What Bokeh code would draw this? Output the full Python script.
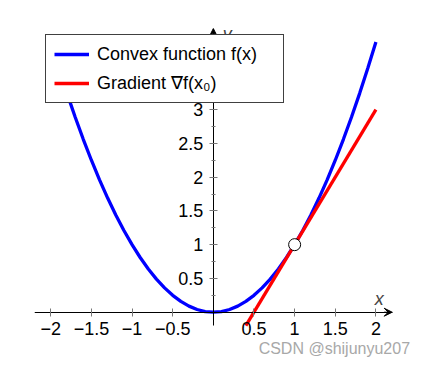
from bokeh.plotting import figure
from bokeh.models import (Range1d, LinearAxis, FixedTicker, CustomJSTickFormatter,
                          Legend, LegendItem, Label, Arrow, VeeHead)
from bokeh.embed import file_html
from bokeh.resources import INLINE

# convex function f(x)
curve_x = [-2.0, -1.9, -1.8, -1.7, -1.6, -1.5, -1.4, -1.3, -1.2, -1.1, -1.0,
           -0.9, -0.8, -0.7, -0.6, -0.5, -0.4, -0.3, -0.2, -0.1, 0.0,
           0.1, 0.2, 0.3, 0.4, 0.5, 0.6, 0.7, 0.8, 0.9, 1.0,
           1.1, 1.2, 1.3, 1.4, 1.5, 1.6, 1.7, 1.8, 1.9, 2.0]
curve_y = [4.0, 3.61, 3.24, 2.89, 2.56, 2.25, 1.96, 1.69, 1.44, 1.21, 1.0,
           0.81, 0.64, 0.49, 0.36, 0.25, 0.16, 0.09, 0.04, 0.01, 0.0,
           0.01, 0.04, 0.09, 0.16, 0.25, 0.36, 0.49, 0.64, 0.81, 1.0,
           1.21, 1.44, 1.69, 1.96, 2.25, 2.56, 2.89, 3.24, 3.61, 4.0]
# tangent (gradient) line
tangent_x = [0.4, 2.0]
tangent_y = [-0.2, 3.0]
# point x0
point_x = [1.0]
point_y = [1.0]

x_ticks = [-2, -1.5, -1, -0.5, 0.5, 1, 1.5, 2]
y_ticks = [0.5, 1, 1.5, 2, 2.5, 3, 3.5, 4]
y_minor = [0.25, 0.75, 1.25, 1.75, 2.25, 2.75, 3.25, 3.75]

legend_labels = ["Convex function f(x)", "Gradient \u2207f(x\u2080)"]

FONT = "Liberation Sans"

p = figure(width=417, height=359, output_backend="svg", toolbar_location=None,
           x_range=Range1d(-2.2, 2.45), y_range=Range1d(-0.7, 4.2),
           x_axis_location=None, y_axis_location=None,
           min_border_left=34, min_border_right=5, min_border_top=28,
           min_border_bottom=0)
p.outline_line_color = None
p.xgrid.visible = False
p.ygrid.visible = False

fmt = CustomJSTickFormatter(code="return tick.toString().replace('-', '\\u2212');")

xaxis = LinearAxis(fixed_location=0, ticker=FixedTicker(ticks=x_ticks), formatter=fmt,
                   bounds=(-2.2, 2.2))
xaxis.axis_line_color = "black"
xaxis.major_tick_line_color = "#777777"
xaxis.major_tick_in = 4
xaxis.major_tick_out = 4
xaxis.minor_tick_line_color = None
xaxis.major_label_text_font = FONT
xaxis.major_label_text_font_size = "18px"
xaxis.major_label_text_color = "black"
xaxis.major_label_standoff = 6
p.add_layout(xaxis, "below")

yaxis = LinearAxis(fixed_location=0, ticker=FixedTicker(ticks=y_ticks, minor_ticks=y_minor),
                   formatter=fmt, bounds=(-0.2, 4.2))
yaxis.axis_line_color = "black"
yaxis.major_tick_line_color = "#777777"
yaxis.major_tick_in = 4
yaxis.major_tick_out = 4
yaxis.minor_tick_line_color = "#777777"
yaxis.minor_tick_in = 2
yaxis.minor_tick_out = 2
yaxis.major_label_text_font = FONT
yaxis.major_label_text_font_size = "18px"
yaxis.major_label_text_color = "black"
yaxis.major_label_standoff = 6
p.add_layout(yaxis, "left")

p.add_layout(Arrow(end=VeeHead(size=8, fill_color="black", line_color="black"),
                   x_start=2.1, y_start=0, x_end=2.2, y_end=0, line_color="black", line_width=1))
p.add_layout(Arrow(end=VeeHead(size=8, fill_color="black", line_color="black"),
                   x_start=0, y_start=4.1, x_end=0, y_end=4.2, line_color="black", line_width=1))

blue = p.line(curve_x, curve_y, line_color="#0000ff", line_width=3.3)
red = p.line(tangent_x, tangent_y, line_color="#ff0000", line_width=3.3)
p.scatter(point_x, point_y, size=12, fill_color="white", line_color="black", line_width=1)

p.add_layout(Label(x=2.04, y=0.2, text="x", text_font=FONT, text_font_size="18px",
                   text_font_style="italic", text_align="center", text_baseline="middle"))
p.add_layout(Label(x=0.17, y=4.12, text="y", text_font=FONT, text_font_size="18px",
                   text_font_style="italic", text_align="center", text_baseline="middle"))

legend = Legend(items=[LegendItem(label=legend_labels[0], renderers=[blue]),
                       LegendItem(label=legend_labels[1], renderers=[red])],
                location=(11, 256), orientation="vertical",
                label_text_font=FONT, label_text_font_size="18px",
                label_text_color="black",
                glyph_width=35, glyph_height=22, label_height=22, label_width=178,
                label_standoff=8, spacing=7, padding=8, margin=0,
                border_line_color="#404040", border_line_width=1.5,
                border_line_alpha=1.0,
                background_fill_color="white", background_fill_alpha=1.0)
p.add_layout(legend)

p.add_layout(Label(x=2.42, y=-0.53, text="CSDN @shijunyu207", text_font=FONT,
                   text_font_size="16px", text_color="#a8a8a8",
                   text_align="right", text_baseline="middle"))

open("out.html", "w").write(file_html(p, INLINE))
